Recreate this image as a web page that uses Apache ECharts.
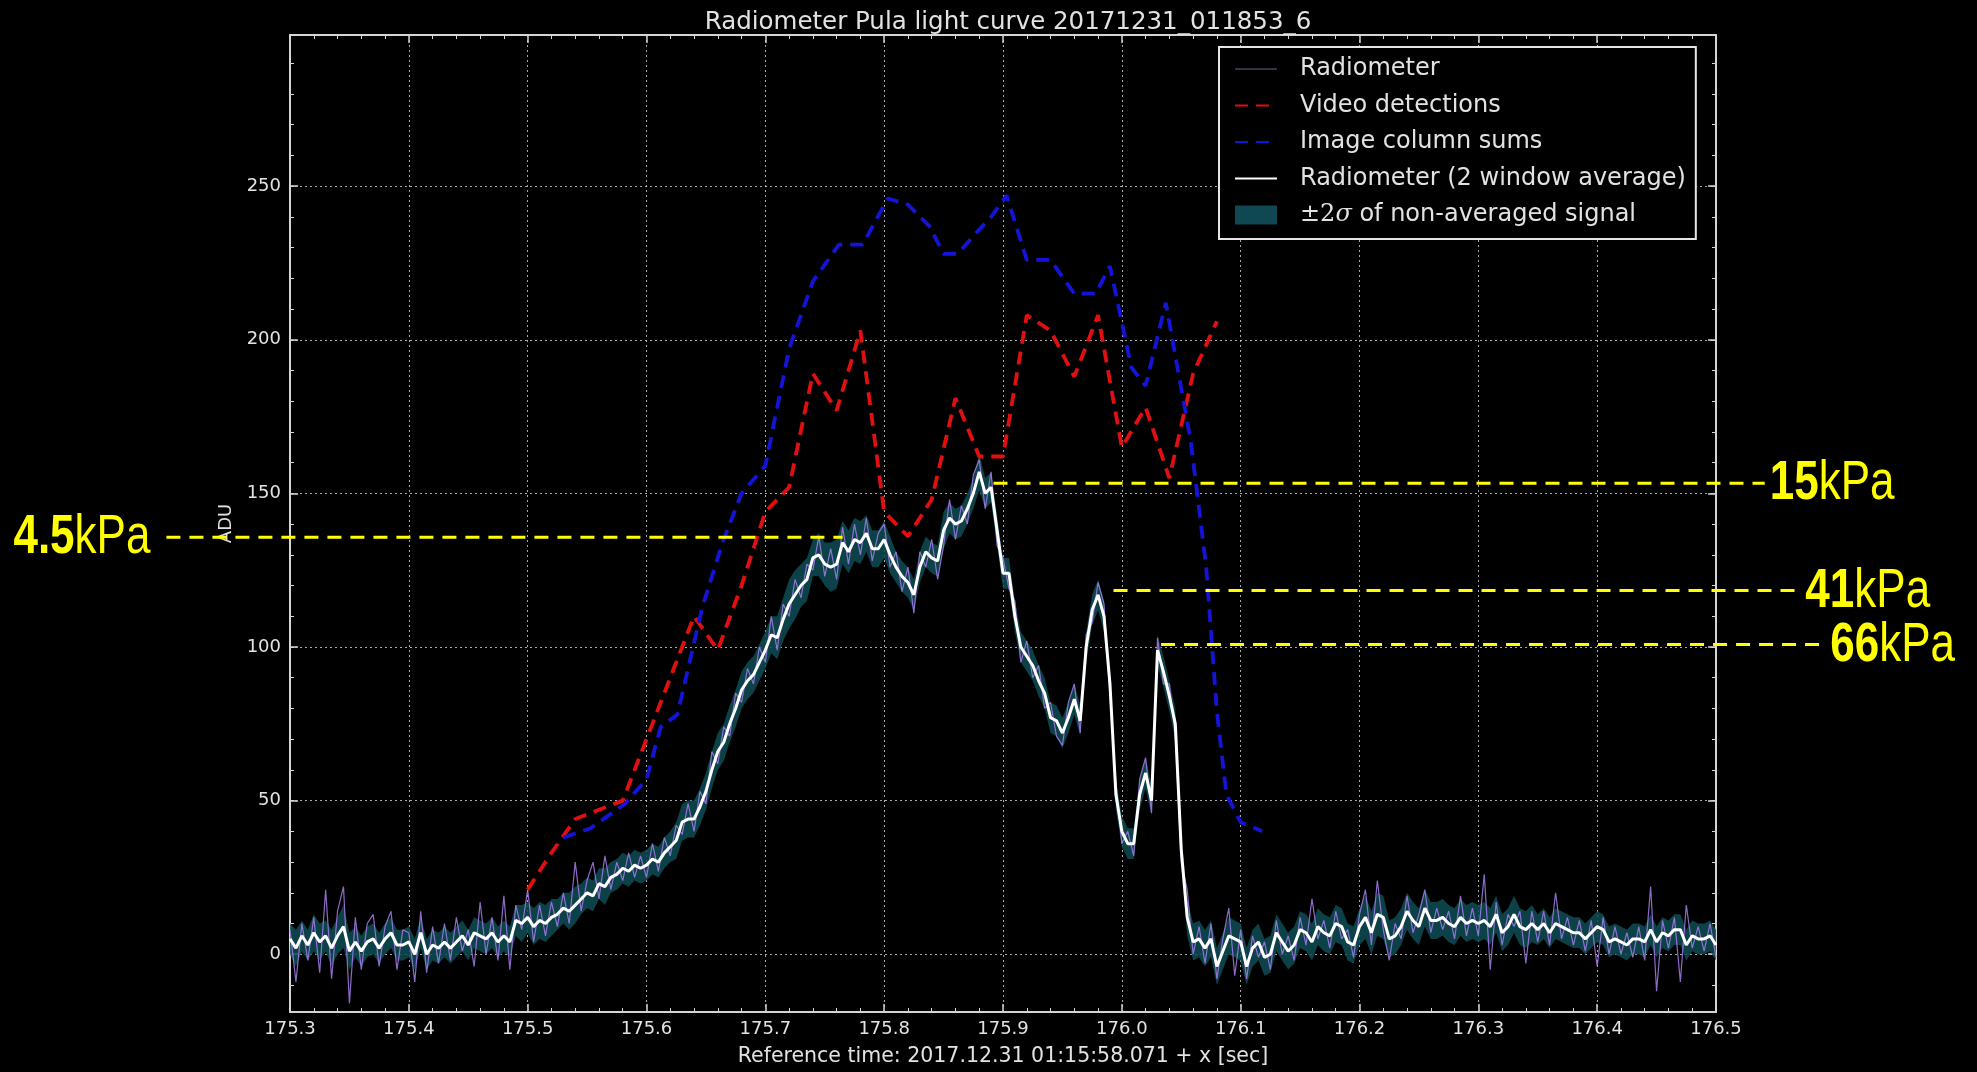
<!DOCTYPE html>
<html>
<head>
<meta charset="utf-8">
<title>Radiometer Pula light curve</title>
<script src="https://cdn.jsdelivr.net/npm/echarts@6/dist/echarts.min.js"></script>
<style>
  html, body { margin: 0; padding: 0; background: #000; }
  #chart { width: 1977px; height: 1072px; }
</style>
</head>
<body>
<div id="chart"></div>
<script>
// ---- sampling grid of the radiometer (seconds after reference time) ----
const T0 = 175.3;
const DT = 0.005;

// Radiometer, 2-window average (ADU), one value per sample
const radiometerAvg = [
  5,2,6,3,7,4,6,2,6,9,
  1,4,1,4,5,2,5,7,3,3,
  4,0,7,0,3,2,4,2,4,6,
  3,7,6,5,7,4,6,4,11,10,
  12,9,11,10,12,13,15,14,16,18,
  20,19,23,22,25,26,28,27,29,28,
  29,31,30,33,35,37,43,44,44,48,
  53,60,66,69,75,80,86,89,91,95,
  99,104,103,109,114,117,120,122,129,130,
  127,126,127,134,131,135,134,137,132,132,
  135,130,126,123,121,117,126,131,129,128,
  138,142,140,141,145,150,157,150,152,138,
  124,124,110,100,97,94,89,85,77,76,
  72,77,83,76,100,112,117,110,88,52,
  40,36,36,52,59,50,99,92,84,75,
  34,12,4,5,2,5,-4,1,6,5,
  4,-4,2,4,-1,0,7,4,1,3,
  8,7,4,9,7,6,10,9,4,3,
  9,12,7,13,12,5,6,9,14,11,
  9,15,11,11,12,10,9,12,10,11,
  10,11,9,13,7,9,13,9,8,10,
  8,10,7,10,9,8,7,7,5,7,
  9,8,4,5,4,3,5,5,4,8,
  4,7,6,8,8,3,6,5,5,6,
  3
];

// Radiometer, non-averaged samples (ADU)
const radiometerRaw = [
  8,-9,10,-2,12,-6,21,-8,14,22,
  -16,12,-5,10,13,-4,9,14,-5,8,
  7,-9,14,-6,9,-3,10,-2,12,1,
  8,-4,17,0,12,-2,19,-5,16,8,
  21,4,16,6,17,9,20,10,30,14,
  24,30,18,32,21,30,24,33,25,32,
  25,36,27,38,32,42,39,49,40,53,
  49,66,62,74,71,85,82,93,88,100,
  95,110,99,114,110,122,116,127,125,136,
  123,132,122,139,127,140,130,142,128,137,
  140,126,131,118,126,111,131,126,135,122,
  133,148,135,146,140,156,161,145,157,133,
  129,119,115,95,102,90,94,80,82,71,
  68,82,88,72,104,108,121,114,84,56,
  36,40,32,57,64,46,103,88,88,71,
  30,21,0,9,-3,10,-8,5,15,-7,
  8,-8,6,-1,4,-5,11,0,6,-2,
  12,3,18,5,11,2,14,5,8,-1,
  13,21,3,24,8,-2,10,5,19,7,
  13,21,7,15,8,14,5,19,6,15,
  6,26,-5,17,3,13,9,14,-3,14,
  4,14,3,20,5,12,3,11,1,11,
  -4,12,0,9,0,7,-1,9,-2,22,
  -12,11,2,12,-9,16,2,9,1,10,
  -1
];

// half-width of the +-2 sigma envelope of the non-averaged signal (ADU)
const twoSigma = [
  5,6,5,5,6,6,5,6,6,7,
  6,5,5,5,5,5,5,5,5,5,
  5,5,5,5,5,5,5,5,5,5,
  5,5,5,5,5,5,5,5,5,6,
  5,6,6,6,6,5,5,6,6,5,
  5,5,5,6,5,5,5,5,5,5,
  5,5,5,5,5,6,6,6,6,6,
  6,6,6,6,6,6,6,6,6,6,
  6,6,7,7,8,8,7,7,6,7,
  7,8,8,7,7,7,7,6,6,6,
  6,6,5,5,5,5,5,5,5,5,
  6,5,5,5,5,5,6,5,5,5,
  5,5,5,5,5,5,5,5,5,5,
  5,5,5,5,5,5,5,5,5,5,
  5,5,5,5,5,5,5,5,5,5,
  5,6,6,6,6,6,6,6,6,6,
  6,6,6,6,6,6,6,6,6,6,
  6,6,6,6,6,6,6,6,6,6,
  6,7,7,7,7,6,6,6,6,6,
  6,6,6,6,6,6,6,6,6,6,
  6,6,6,6,6,6,6,6,6,6,
  5,5,5,5,5,5,5,5,5,5,
  5,5,5,5,5,5,5,5,5,5,
  5,5,5,5,5,5,5,5,5,5,
  5
];

// Video detections (time, ADU)
const videoTime = [175.50,175.52,175.54,175.56,175.58,175.60,175.62,175.64,175.66,175.68,
  175.70,175.72,175.74,175.76,175.78,175.80,175.82,175.84,175.86,175.88,
  175.90,175.92,175.94,175.96,175.98,176.00,176.02,176.04,176.06,176.08];
const videoADU = [21,33,44,47,50,70,90,110,99,120,
  144,152,189,177,203,144,136,148,181,162,
  162,208,203,188,208,165,178,155,189,206];

// Image column sums (time, ADU)
const columnTime = [175.530,175.553,175.582,175.600,175.612,175.626,175.647,175.664,175.680,175.700,
  175.720,175.740,175.762,175.782,175.803,175.820,175.838,175.850,175.862,175.878,
  175.890,175.903,175.920,175.940,175.960,175.978,175.990,176.008,176.020,176.037,
  176.058,176.071,176.080,176.088,176.100,176.118];
const columnADU = [38,41,49,57,74,78,113,134,150,159,
  197,219,231,231,246,244,237,228,228,235,
  240,247,226,226,215,215,224,191,185,212,
  167,126,79,52,43,40];

// axis ticks
const xTicksMajor = 0.1;
const yTickLabels = [0, 50, 100, 150, 200, 250];
const yMinorTicks = [-10,0,10,20,30,40,50,60,70,80,90,100,110,120,130,140,150,
                     160,170,180,190,200,210,220,230,240,250,260,270,280,290];

// dynamic-pressure annotations: label number, ADU level, time span of the guide line
const kpaNumbers = ['4.5', '15', '41', '66'];
const kpaLevels = [135.7, 153.3, 118.4, 100.8];
const kpaFrom = [175.196, 175.892, 175.993, 176.033];
const kpaTo = [175.765, 176.541, 176.571, 176.592];
const kpaSide = ['left', 'right', 'right', 'right'];

// ---------------------------------------------------------------------
const time = radiometerAvg.map((_, i) => +(T0 + i * DT).toFixed(3));
const pairs = (xs, ys) => xs.map((x, i) => [x, ys[i]]);
const bandLow = radiometerAvg.map((v, i) => v - twoSigma[i]);
const bandHigh = radiometerAvg.map((v, i) => v + twoSigma[i]);

const SANS = '"DejaVu Sans", sans-serif';
const FG = '#e2e2e2';
const AXIS = '#d4d4d4';
const BAND = '#0f4852';
const BAND_FILL = 'rgba(14,76,84,0.85)';
const BAND_NAME = '±2σ of non-averaged signal';
const RAW_COLOR = 'rgba(165,125,235,0.85)';

const chart = echarts.init(document.getElementById('chart'), null, { renderer: 'canvas' });

const X_MIN = 175.3, X_MAX = 176.5, Y_MIN = -18.8, Y_MAX = 299.2;

const gridLine = { show: true, lineStyle: { color: 'rgba(225,225,225,0.75)', width: 1, type: [2, 3] } };

const xBase = {
  type: 'value', min: X_MIN, max: X_MAX, interval: xTicksMajor,
  axisLine: { show: true, onZero: false, lineStyle: { color: AXIS, width: 2 } },
  axisTick: { show: true, inside: true, length: 8, lineStyle: { color: AXIS, width: 1.5 } },
  minorTick: { show: true, splitNumber: 5, length: 4, lineStyle: { color: AXIS, width: 1 } },
};
const yMajor = {
  type: 'value', min: Y_MIN, max: Y_MAX,
  axisLine: { show: true, onZero: false, lineStyle: { color: AXIS, width: 2 } },
  axisTick: { show: true, inside: true, length: 8, customValues: yTickLabels, lineStyle: { color: AXIS, width: 1.5 } },
};
const yMinor = {
  type: 'value', min: Y_MIN, max: Y_MAX,
  axisLine: { show: false },
  axisLabel: { show: false },
  splitLine: { show: false },
  axisTick: { show: true, inside: true, length: 4, lineStyle: { color: AXIS, width: 1 },
              customValues: yMinorTicks },
};

// line icons in the legend carry no marker symbol
const noMarker = { opacity: 0 };

const option = {
  backgroundColor: '#000',
  animation: false,
  title: {
    text: 'Radiometer Pula light curve 20171231_011853_6',
    left: 1003, top: 5, textAlign: 'center',
    textStyle: { color: FG, fontSize: 24.5, fontWeight: 'normal', fontFamily: SANS },
  },
  grid: { left: 290, right: 261, top: 35, bottom: 57, containLabel: false },
  xAxis: [
    Object.assign({}, xBase, {
      position: 'bottom',
      name: 'Reference time: 2017.12.31 01:15:58.071 + x [sec]',
      nameLocation: 'middle', nameGap: 34,
      nameTextStyle: { color: FG, fontSize: 20.5, fontFamily: SANS },
      axisLabel: { show: true, color: FG, fontSize: 18, fontFamily: SANS, margin: 8,
                   formatter: v => v.toFixed(1) },
      splitLine: gridLine,
    }),
    Object.assign({}, xBase, {
      position: 'top',
      axisLabel: { show: false },
      splitLine: { show: false },
    }),
  ],
  yAxis: [
    Object.assign({}, yMajor, {
      position: 'left',
      name: 'ADU', nameLocation: 'middle', nameGap: 54, nameRotate: 90,
      nameTextStyle: { color: FG, fontSize: 18, fontFamily: SANS },
      axisLabel: { show: true, color: FG, fontSize: 18, fontFamily: SANS, margin: 9,
                   customValues: yTickLabels },
      splitLine: gridLine,
    }),
    Object.assign({}, yMajor, {
      position: 'right',
      axisLabel: { show: false },
      splitLine: { show: false },
    }),
    Object.assign({}, yMinor, { position: 'left' }),
    Object.assign({}, yMinor, { position: 'right' }),
  ],
  legend: {
    orient: 'vertical',
    left: 1219, top: 47,
    backgroundColor: '#000',
    borderColor: '#e6e6e6', borderWidth: 2, borderRadius: 0,
    padding: [8, 10, 10, 15],
    itemWidth: 42, itemHeight: 19, itemGap: 8.5,
    selectedMode: false,
    textStyle: {
      color: FG, fontSize: 24, fontFamily: SANS, lineHeight: 28, padding: [0, 0, 0, 18],
      rich: {
        pm: { fontFamily: '"DejaVu Serif", serif', fontSize: 24, color: FG },
        sg: { fontFamily: '"DejaVu Serif", serif', fontStyle: 'italic', fontSize: 24, color: FG },
        tx: { fontFamily: SANS, fontSize: 24, color: FG },
      },
    },
    formatter: name => name === BAND_NAME ? '{pm|±2}{sg|σ}{tx| of non-averaged signal}' : name,
    data: [
      { name: 'Radiometer', itemStyle: noMarker, lineStyle: { color: '#44445a', width: 1.5 } },
      { name: 'Video detections', itemStyle: noMarker },
      { name: 'Image column sums', itemStyle: noMarker },
      { name: 'Radiometer (2 window average)', itemStyle: noMarker },
      { name: BAND_NAME, icon: 'rect', itemStyle: { color: BAND } },
    ],
  },
  series: [
    {
      // +-2 sigma envelope as one filled polygon between the low and high bounds
      name: BAND_NAME, type: 'custom', color: BAND,
      data: time.map((t, i) => [t, bandLow[i], bandHigh[i]]),
      encode: { x: 0, y: [1, 2] },
      silent: true, z: 1,
      renderItem: (params, api) => {
        if (params.dataIndex !== 0) return null;
        const top = time.map((t, i) => api.coord([t, bandHigh[i]]));
        const bottom = time.map((t, i) => api.coord([t, bandLow[i]])).reverse();
        return { type: 'polygon', shape: { points: top.concat(bottom) }, style: { fill: BAND_FILL } };
      },
    },
    {
      name: 'Radiometer', type: 'line', color: RAW_COLOR,
      data: pairs(time, radiometerRaw),
      symbol: 'none', lineStyle: { width: 1.2, color: RAW_COLOR }, z: 2,
    },
    {
      name: 'Radiometer (2 window average)', type: 'line', color: '#ffffff',
      data: pairs(time, radiometerAvg),
      symbol: 'none', lineStyle: { width: 3, color: '#ffffff' }, z: 3,
    },
    {
      name: 'Video detections', type: 'line', color: '#e01010',
      data: pairs(videoTime, videoADU),
      symbol: 'none', lineStyle: { width: 3.8, color: '#e01010', type: [13, 8] }, z: 4,
    },
    {
      name: 'Image column sums', type: 'line', color: '#1414d8',
      data: pairs(columnTime, columnADU),
      symbol: 'none', lineStyle: { width: 3.8, color: '#1414d8', type: [13, 8] }, z: 4,
    },
  ],
};

chart.setOption(option);

// pressure guide lines and their labels, positioned through the axes
const NOTE_FONT = '"Liberation Sans Narrow", "Liberation Sans", Arial, sans-serif';
function drawPressureNotes() {
  const els = [];
  kpaNumbers.forEach((num, i) => {
    const y = chart.convertToPixel({ yAxisIndex: 0 }, kpaLevels[i]);
    const x1 = chart.convertToPixel({ xAxisIndex: 0 }, kpaFrom[i]);
    const x2 = chart.convertToPixel({ xAxisIndex: 0 }, kpaTo[i]);
    els.push({
      type: 'line', z: 100, silent: true,
      shape: { x1: x1, y1: y, x2: x2, y2: y },
      style: { stroke: '#ffff00', lineWidth: 3, lineDash: [14, 9] },
    });
    const left = kpaSide[i] === 'left';
    els.push({
      type: 'text', z: 100, silent: true,
      x: left ? x1 - 16 : x2 + 5, y: y + 1,
      scaleX: 0.8,
      style: {
        text: '{b|' + num + '}{r|kPa}',
        align: left ? 'right' : 'left', verticalAlign: 'middle',
        rich: {
          b: { fill: '#ffff00', fontSize: 55, fontWeight: 'bold', fontFamily: NOTE_FONT },
          r: { fill: '#ffff00', fontSize: 55, fontWeight: 'normal', fontFamily: NOTE_FONT },
        },
      },
    });
  });
  chart.setOption({ graphic: els });
}
drawPressureNotes();
</script>
</body>
</html>
